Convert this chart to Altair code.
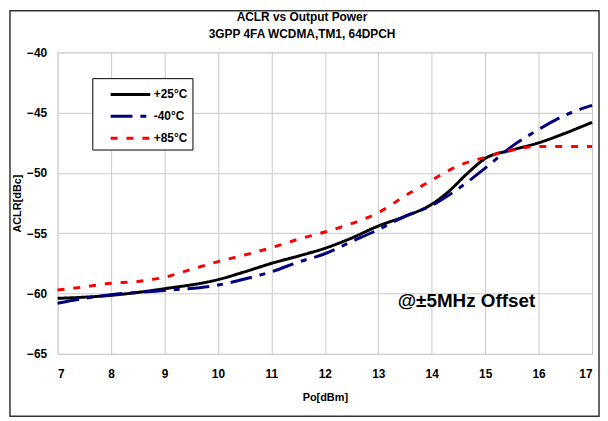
import altair as alt
import pandas as pd

FONT = "Liberation Sans"

# +25°C
x_25 = [7, 8, 9, 10, 10.5, 11, 11.5, 12, 12.5, 13, 13.5, 14, 14.3, 14.7, 15, 15.5, 16, 16.5, 17]
y_25 = [-60.4, -60.15, -59.6, -58.85, -58.2, -57.5, -56.9, -56.25, -55.4, -54.4, -53.6, -52.6, -51.6, -49.9, -48.8, -48.1, -47.5, -46.7, -45.8]

# -40°C
x_m40 = [7, 7.5, 8, 9, 10, 10.5, 11, 11.5, 12, 12.5, 13, 13.5, 14, 14.5, 15, 15.5, 16, 16.5, 17]
y_m40 = [-60.8, -60.4, -60.1, -59.75, -59.3, -58.8, -58.2, -57.4, -56.7, -55.7, -54.7, -53.6, -52.7, -51.3, -49.6, -47.8, -46.4, -45.2, -44.4]

# +85°C
x_85 = [7, 7.5, 8, 8.5, 9, 9.5, 10, 10.5, 11, 11.5, 12, 12.5, 13, 13.5, 14, 14.5, 15, 15.5, 16, 16.5, 17]
y_85 = [-59.7, -59.45, -59.15, -59.0, -58.65, -58.0, -57.35, -56.8, -56.2, -55.5, -54.9, -54.2, -53.3, -51.9, -50.6, -49.4, -48.7, -48.1, -47.8, -47.8, -47.8]

series = ["+25°C", "-40°C", "+85°C"]
colors = ["#000000", "#000080", "#ff0000"]
dashes = [[1, 0], [22, 8, 6, 8], [7, 9]]

x_ticks = list(range(7, 18))
y_ticks = [-65, -60, -55, -50, -45, -40]

note_text = ["@±5MHz Offset"]
note_x = [14.65]
note_y = [-60.6]

rows = []
for name, xs, ys in zip(series, [x_25, x_m40, x_85], [y_25, y_m40, y_85]):
    for i, (a, b) in enumerate(zip(xs, ys)):
        rows.append({"series": name, "po": a, "aclr": b, "order": i})
df = pd.DataFrame(rows)

xscale = alt.Scale(domain=[7, 17], nice=False, zero=False)
yscale = alt.Scale(domain=[-65, -40], nice=False, zero=False)

axis_style = dict(labelFont=FONT, labelFontSize=12, labelFontWeight="bold", labelColor="black",
                  titleFont=FONT, titleFontSize=11, titleFontWeight="bold", titleColor="black",
                  gridColor="#c8c8c8", gridWidth=1, grid=True, ticks=False, domain=False)

lines = alt.Chart(df).mark_line(strokeWidth=3, interpolate="monotone").encode(
    x=alt.X("po:Q", scale=xscale,
            axis=alt.Axis(values=x_ticks, title="Po[dBm]", labelPadding=15, titlePadding=12,
                          **axis_style)),
    y=alt.Y("aclr:Q", scale=yscale,
            axis=alt.Axis(values=y_ticks, title="ACLR[dBc]", labelPadding=11, titlePadding=4,
                          **axis_style)),
    color=alt.Color("series:N", sort=series,
                    scale=alt.Scale(domain=series, range=colors),
                    legend=alt.Legend(title=None, orient="none", legendX=35, legendY=26,
                                      symbolType="M0.2,0H4.2", symbolSize=400,
                                      symbolStrokeWidth=3, strokeColor="black",
                                      fillColor="white", padding=5,
                                      labelFont=FONT, labelFontSize=12,
                                      labelFontWeight="bold", labelColor="black",
                                      labelOffset=34, rowPadding=4)),
    strokeDash=alt.StrokeDash("series:N", sort=series,
                              scale=alt.Scale(domain=series, range=dashes),
                              legend=None),
    order="order:Q",
)

note = alt.Chart(pd.DataFrame({"t": note_text, "x": note_x, "y": note_y})).mark_text(
    font=FONT, fontSize=19, fontWeight="bold", color="black", align="center", baseline="middle"
).encode(x=alt.X("x:Q", scale=xscale), y=alt.Y("y:Q", scale=yscale), text="t:N")

frame = alt.Chart(pd.DataFrame({"a": [0]})).mark_rect(
    fill=None, stroke="#333333", strokeWidth=1.5, clip=False
).encode(x=alt.value(-48), x2=alt.value(546), y=alt.value(-42), y2=alt.value(367))

chart = alt.layer(frame, lines, note).properties(
    width=539, height=304,
    autosize=alt.AutoSizeParams(type="none"),
    padding={"left": 50, "top": 43, "right": 8, "bottom": 65},
    title=alt.TitleParams(
        text=["ACLR vs Output Power", "3GPP 4FA WCDMA,TM1, 64DPCH"],
        anchor="middle", font=FONT, fontSize=12, fontWeight="bold", color="black",
        lineHeight=17, offset=0, dy=31, dx=-23),
).configure_view(stroke="black", strokeWidth=1.5).configure(background="white")

chart.save("out.html", embed_options={"renderer": "svg", "actions": False})
